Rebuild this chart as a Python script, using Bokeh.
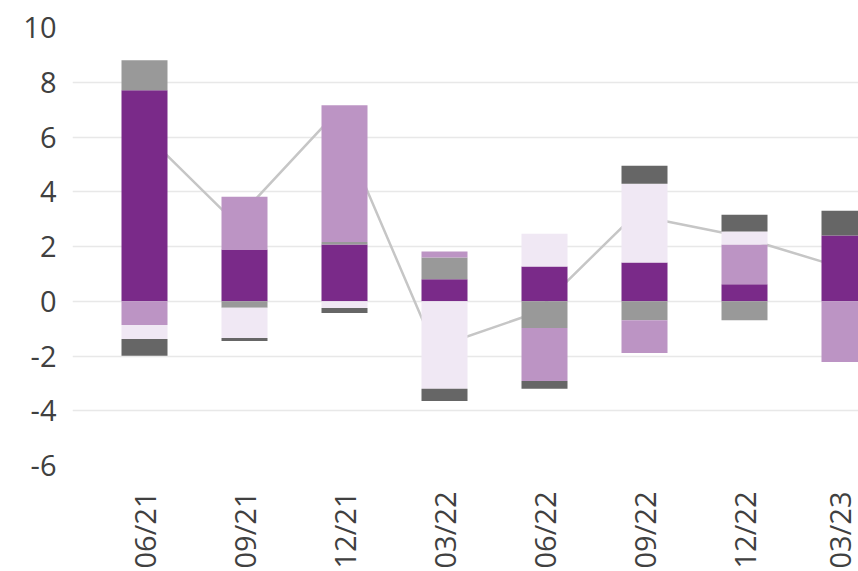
import numpy as np
from bokeh.plotting import figure
from bokeh.models import Range1d, FixedTicker
from bokeh.embed import file_html
from bokeh.resources import INLINE

# ---- data ----
categories = ["06/21", "09/21", "12/21", "03/22", "06/22", "09/22", "12/22", "03/23"]
dark_purple = [7.71, 1.89, 2.07, 0.80, 1.27, 1.42, 0.62, 2.40]
grey = [1.09, -0.24, 0.09, 0.80, -0.98, -0.69, -0.69, 0.0]
light_purple = [-0.87, 1.93, 5.00, 0.22, -1.93, -1.20, 1.45, -2.22]
lavender = [-0.51, -1.10, -0.25, -3.20, 1.20, 2.87, 0.48, 0.0]
dark_grey = [-0.61, -0.11, -0.18, -0.44, -0.29, 0.66, 0.61, 0.91]
total_line = [6.50, 2.90, 6.83, -1.70, -0.44, 3.15, 2.42, 1.31]
y_ticks = [-6, -4, -2, 0, 2, 4, 6, 8, 10]

series = [
    (dark_purple, "#7a2a89"),
    (grey, "#999999"),
    (light_purple, "#bc94c4"),
    (lavender, "#f0e8f4"),
    (dark_grey, "#666666"),
]

FONT = "Open Sans"
TEXT = "#404040"

xs = np.arange(len(categories), dtype=float)

p = figure(
    width=858, height=571,
    x_range=Range1d(-0.72, 7.14), y_range=Range1d(-6, 10),
    output_backend="svg", toolbar_location=None,
    min_border_left=72, min_border_right=0, min_border_top=27, min_border_bottom=106,
)
p.outline_line_color = None
p.background_fill_color = "white"
p.border_fill_color = "white"

# total line (drawn behind the bars)
p.line(xs - 0.1, total_line, line_color="#c6c6c6", line_width=2.5)

pos_base = np.zeros(len(categories))
neg_base = np.zeros(len(categories))
for vals, color in series:
    v = np.array(vals, dtype=float)
    bottom = np.where(v >= 0, pos_base, neg_base)
    top = bottom + v
    p.vbar(x=xs, bottom=bottom, top=top, width=0.46,
           fill_color=color, line_color=None)
    pos_base = pos_base + np.clip(v, 0, None)
    neg_base = neg_base + np.clip(v, None, 0)

# axes
p.xaxis.ticker = FixedTicker(ticks=list(range(len(categories))))
p.xaxis.major_label_overrides = {i: c for i, c in enumerate(categories)}
p.xaxis.major_label_orientation = np.pi / 2
p.xaxis.axis_line_color = None
p.xaxis.major_tick_line_color = None
p.xaxis.minor_tick_line_color = None
p.xaxis.major_label_standoff = 20
p.xaxis.major_label_text_font = FONT
p.xaxis.major_label_text_font_size = "29px"
p.xaxis.major_label_text_color = TEXT

p.yaxis.ticker = FixedTicker(ticks=y_ticks)
p.yaxis.major_label_overrides = {t: str(t) for t in y_ticks}
p.yaxis.axis_line_color = None
p.yaxis.major_tick_line_color = None
p.yaxis.minor_tick_line_color = None
p.yaxis.major_label_standoff = 10
p.yaxis.major_label_text_font = FONT
p.yaxis.major_label_text_font_size = "29px"
p.yaxis.major_label_text_color = TEXT

p.xgrid.grid_line_color = None
p.ygrid.grid_line_color = "#e8e8e8"
p.ygrid.grid_line_width = 1.5

open("out.html", "w").write(file_html(p, INLINE))
